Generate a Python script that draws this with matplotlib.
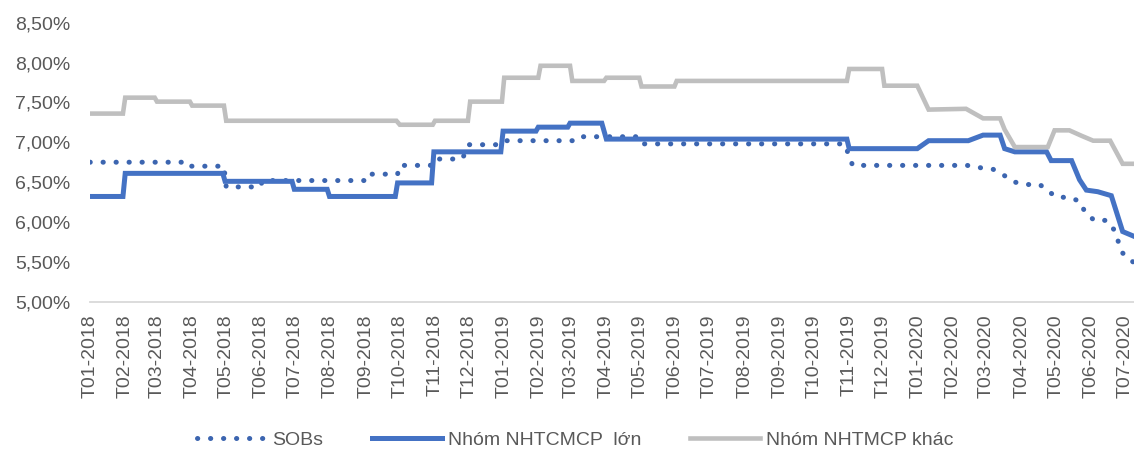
import matplotlib
matplotlib.use('Agg')
import matplotlib.pyplot as plt
import matplotlib.dates as mdates
from matplotlib.ticker import FuncFormatter, MultipleLocator
import pandas as pd

plt.rcParams['font.family'] = ['Liberation Sans', 'DejaVu Sans']

# lai suat theo thoi gian (diem doi muc), %
sobs_dates = ['2018-01-01', '2018-03-25', '2018-03-27', '2018-04-29', '2018-05-01', '2018-05-31',
              '2018-06-02', '2018-08-31', '2018-09-02', '2018-09-29', '2018-10-01', '2018-10-28',
              '2018-10-31', '2018-11-25', '2018-12-01', '2018-12-28', '2019-01-01', '2019-03-05',
              '2019-03-09', '2019-04-27', '2019-05-01', '2019-10-28', '2019-11-04', '2020-02-13',
              '2020-02-25', '2020-03-07', '2020-03-17', '2020-03-26', '2020-04-05', '2020-04-17',
              '2020-04-24', '2020-05-02', '2020-05-13', '2020-05-22', '2020-05-27', '2020-06-04',
              '2020-06-15', '2020-06-21', '2020-06-25', '2020-06-29', '2020-07-08']
sobs_values = [6.75, 6.75, 6.70, 6.70, 6.44, 6.44,
               6.52, 6.52, 6.60, 6.60, 6.71, 6.71,
               6.79, 6.79, 6.97, 6.97, 7.02, 7.02,
               7.07, 7.07, 6.98, 6.98, 6.71, 6.71,
               6.68, 6.66, 6.58, 6.50, 6.47, 6.47,
               6.39, 6.31, 6.31, 6.26, 6.12, 6.02,
               6.02, 5.91, 5.76, 5.61, 5.50]

lon_dates = ['2018-01-01', '2018-01-30', '2018-02-01', '2018-04-28', '2018-04-30', '2018-06-28',
             '2018-06-30', '2018-07-29', '2018-07-31', '2018-09-27', '2018-09-29', '2018-10-29',
             '2018-10-31', '2018-12-29', '2018-12-31', '2019-01-29', '2019-01-31', '2019-02-26',
             '2019-02-28', '2019-03-28', '2019-04-01', '2019-10-30', '2019-11-01', '2019-12-31',
             '2020-01-10', '2020-02-14', '2020-02-27', '2020-03-13', '2020-03-17', '2020-03-26',
             '2020-04-23', '2020-04-27', '2020-05-15', '2020-05-22', '2020-05-28', '2020-06-07',
             '2020-06-19', '2020-06-29', '2020-07-09']
lon_values = [6.32, 6.32, 6.61, 6.61, 6.51, 6.51,
              6.41, 6.41, 6.32, 6.32, 6.49, 6.49,
              6.88, 6.88, 7.14, 7.14, 7.19, 7.19,
              7.24, 7.24, 7.04, 7.04, 6.92, 6.92,
              7.02, 7.02, 7.09, 7.09, 6.92, 6.88,
              6.88, 6.77, 6.77, 6.53, 6.40, 6.38,
              6.33, 5.88, 5.82]

khac_dates = ['2018-01-01', '2018-01-30', '2018-02-01', '2018-02-27', '2018-03-01', '2018-03-30',
              '2018-04-01', '2018-04-29', '2018-05-01', '2018-09-28', '2018-10-01', '2018-10-30',
              '2018-11-01', '2018-11-30', '2018-12-02', '2018-12-30', '2019-01-01', '2019-01-31',
              '2019-02-02', '2019-02-28', '2019-03-02', '2019-03-30', '2019-04-01', '2019-04-30',
              '2019-05-02', '2019-05-31', '2019-06-02', '2019-10-30', '2019-11-01', '2019-11-30',
              '2019-12-02', '2019-12-31', '2020-01-10', '2020-02-12', '2020-02-27', '2020-03-13',
              '2020-03-17', '2020-03-26', '2020-04-24', '2020-04-30', '2020-05-13', '2020-05-24',
              '2020-06-03', '2020-06-18', '2020-06-29', '2020-07-09']
khac_values = [7.36, 7.36, 7.56, 7.56, 7.51, 7.51,
               7.46, 7.46, 7.27, 7.27, 7.22, 7.22,
               7.27, 7.27, 7.51, 7.51, 7.81, 7.81,
               7.96, 7.96, 7.77, 7.77, 7.81, 7.81,
               7.70, 7.70, 7.77, 7.77, 7.92, 7.92,
               7.71, 7.71, 7.41, 7.42, 7.30, 7.30,
               7.16, 6.94, 6.94, 7.15, 7.15, 7.08,
               7.02, 7.02, 6.73, 6.73]

month_ticks = pd.date_range('2018-01-01', '2020-07-01', freq='MS')
month_labels = ['T%02d-%d' % (d.month, d.year) for d in month_ticks]

fig = plt.figure(figsize=(11.34, 4.55), dpi=100)
ax = fig.add_axes([0.0794, 0.337, 0.9206, 0.613])

ax.plot(pd.to_datetime(sobs_dates), sobs_values, color='#3C65B0', lw=3.6,
        linestyle=(0, (0.05, 2.55)), dash_capstyle='round', label='SOBs')
ax.plot(pd.to_datetime(lon_dates), lon_values, color='#4472C4', lw=3.6,
        solid_joinstyle='miter', label='Nhóm NHTCMCP  lớn')
ax.plot(pd.to_datetime(khac_dates), khac_values, color='#BFBFBF', lw=3.3,
        solid_joinstyle='miter', label='Nhóm NHTMCP khác')

ax.set_ylim(5.0, 8.5)
ax.set_xlim(pd.Timestamp('2018-01-01'), pd.Timestamp('2020-07-09'))
ax.yaxis.set_major_locator(MultipleLocator(0.5))
ax.yaxis.set_major_formatter(FuncFormatter(lambda v, p: ('%.2f%%' % v).replace('.', ',')))
ax.set_xticks(month_ticks)
ax.set_xticklabels(month_labels, rotation=90)

for s in ['top', 'right', 'left']:
    ax.spines[s].set_visible(False)
ax.spines['bottom'].set_color('#D9D9D9')
ax.spines['bottom'].set_linewidth(1.3)
ax.tick_params(axis='x', length=0, pad=9, labelsize=14, labelcolor='#595959')
ax.tick_params(axis='y', length=0, pad=14, labelsize=14, labelcolor='#595959')

leg = fig.legend(loc='center', bbox_to_anchor=(0.507, 0.033), ncol=3, frameon=False,
                 fontsize=14, handlelength=3.6, columnspacing=2.5, handletextpad=0.3)
for t in leg.get_texts():
    t.set_color('#595959')

fig.savefig('out.png', dpi=100)
